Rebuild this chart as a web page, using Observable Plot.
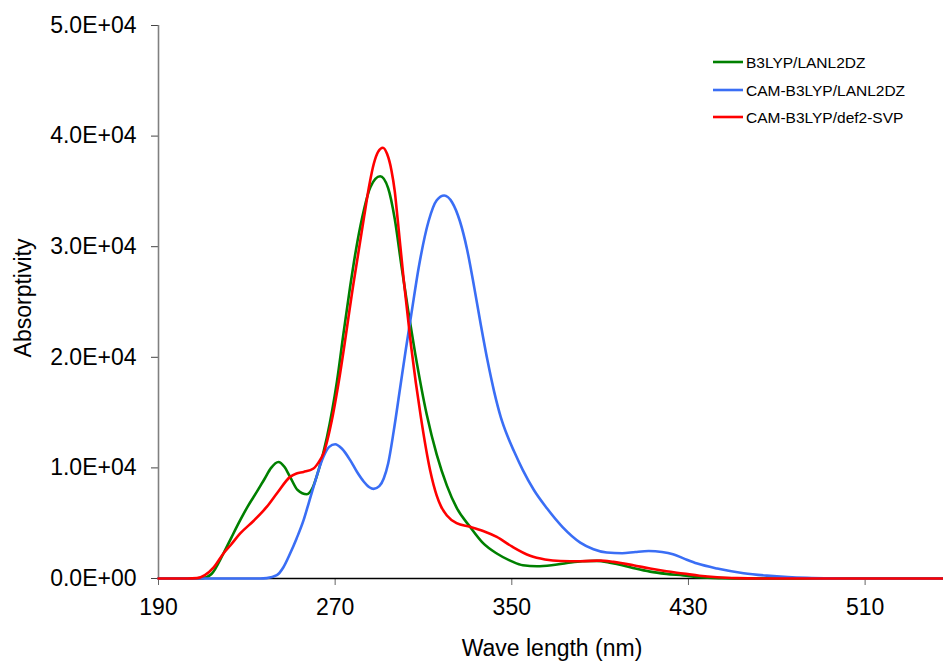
<!DOCTYPE html>
<html><head><meta charset="utf-8">
<script src="https://cdn.jsdelivr.net/npm/d3@7"></script>
<script src="https://cdn.jsdelivr.net/npm/@observablehq/plot@0.6"></script>
<style>
body{margin:0;background:#fff}
#chart{position:relative;width:943px;height:663px}
</style>
</head><body><div id="chart"></div>
<script>
const seriesNames = ["B3LYP/LANL2DZ", "CAM-B3LYP/LANL2DZ", "CAM-B3LYP/def2-SVP"];
const seriesColors = ["#008000", "#3A6EF5", "#FF0000"];
const xTicks = [190, 270, 350, 430, 510];
const yTicks = [0, 10000, 20000, 30000, 40000, 50000];
const xDomain = [190, 545.5];
const yDomain = [0, 50000];

const b3lypNm  = [190,205,210,214,219.4,223,227,230.5,234.5,238,241,244.3,247,249.6,253,257.2,260,262.5,266.3,270.8,273.8,276.8,279.5,282.1,286,290.4,294,297,300,303,306.2,311.5,316,320.6,325,331.1,337,343.2,350,355,361.4,368,375,382,388.5,395,400,406,412.6,420,427.7,435,445,455,545.5];
const b3lypAbs = [0,0,30,400,2260,3700,5270,6550,7830,9000,10000,10540,10100,9190,8000,7620,8300,9790,12800,17800,22200,26400,29800,32500,35400,36370,35300,32500,28300,24300,20400,14800,11200,8400,6400,4670,3200,2260,1550,1200,1110,1200,1400,1560,1590,1400,1200,900,620,420,280,120,30,0,0];

const camLanlNm  = [190,236,239,243.6,246.5,249.6,252.5,255.7,258,260.2,262.5,264.7,267.3,270,273,276.8,280,283,285.5,287.4,290,292,294,296.5,299.4,302,304.5,308,312.3,316,319.4,323,326.5,329.7,333,336,339,342,345,348,351,355,360,365.9,373,381,387,393,400,406,412,418,423,428,434,443,455,465.5,475,483.6,495,505,545.5];
const camLanlAbs = [0,0,30,300,1000,2260,3600,5270,6800,8280,9800,11000,11900,12140,11750,10700,9600,8750,8250,8100,8350,9050,10400,13300,17200,20700,23900,28300,32300,34200,34630,34000,32300,29800,26300,22900,19700,16900,14600,12900,11500,9800,8000,6350,4650,3250,2650,2350,2280,2400,2480,2400,2200,1800,1350,900,480,260,130,60,15,0,0];

const camDef2Nm  = [190,203,207.4,211,215,219.4,223,227,233,239,244,249.6,252.5,255.7,260.2,262.5,264.7,268.5,271.5,278.3,283.1,285.5,287.5,289.5,291.6,293.5,295.5,297,298.2,301,304.4,308.8,313,316,318,320.6,325,331.1,337,343.2,350,358.3,365,372,381,390,396,405,412.6,420,427.7,435,443,452,462,545.5];
const camDef2Abs = [0,0,30,300,1000,2260,3100,4070,5200,6470,7800,9190,9500,9640,9950,10500,11300,14310,17630,26670,32700,35600,37500,38600,38950,38400,36900,35000,32700,27100,21000,14610,9790,7500,6500,5700,5000,4670,4300,3760,2900,2050,1720,1580,1560,1620,1500,1200,900,650,450,250,110,30,0,0];

const seriesX = [b3lypNm, camLanlNm, camDef2Nm];
const seriesY = [b3lypAbs, camLanlAbs, camDef2Abs];
const rows = [];
seriesNames.forEach((name, i) => {
  seriesX[i].forEach((x, j) => rows.push({series: name, nm: x, abs: seriesY[i][j]}));
});

const sci = d => {
  if (d === 0) return "0.0E+00";
  const e = Math.floor(Math.log10(Math.abs(d)));
  const m = d / Math.pow(10, e);
  return m.toFixed(1) + "E" + (e < 0 ? "-" : "+") + String(Math.abs(e)).padStart(2, "0");
};

const FONT = "'Liberation Sans', Arial, sans-serif";

const chart = Plot.plot({
  width: 943,
  height: 663,
  marginLeft: 158,
  marginTop: 25,
  marginBottom: 85,
  marginRight: 0,
  style: {fontSize: "23px", fontFamily: FONT, background: "#fff", color: "#000"},
  x: {domain: xDomain, label: null},
  y: {domain: yDomain, label: null},
  color: {domain: seriesNames, range: seriesColors},
  marks: [
    Plot.axisX({ticks: xTicks, tickSize: 7, tickPadding: 13, stroke: "#666", fill: "#000", label: null}),
    Plot.axisY({ticks: yTicks, tickFormat: sci, tickSize: 7, tickPadding: 15, stroke: "#444", fill: "#000", label: null}),
    Plot.ruleX([xDomain[0]], {stroke: "#808080", strokeWidth: 1.6}),
    Plot.ruleY([yDomain[0]], {stroke: "#000", strokeWidth: 1.3}),
    Plot.line(rows, {x: "nm", y: "abs", z: "series", stroke: "series", strokeWidth: 2.6, curve: "monotone-x"})
  ]
});

document.getElementById("chart").appendChild(chart);

// Axis titles and legend
const svg = d3.select(chart);
svg.append("text")
  .attr("x", 552).attr("y", 656)
  .attr("text-anchor", "middle")
  .style("font-family", FONT).style("font-size", "23px").attr("fill", "#000")
  .text("Wave length (nm)");
svg.append("text")
  .attr("transform", "translate(31,298) rotate(-90)")
  .attr("text-anchor", "middle")
  .style("font-family", FONT).style("font-size", "23px").attr("fill", "#000")
  .text("Absorptivity");

const legendY = [62, 90, 117];
const lg = svg.append("g");
seriesNames.forEach((name, i) => {
  lg.append("line")
    .attr("x1", 713).attr("x2", 743)
    .attr("y1", legendY[i]).attr("y2", legendY[i])
    .attr("stroke", seriesColors[i]).attr("stroke-width", 2.6);
  lg.append("text")
    .attr("x", 746).attr("y", legendY[i])
    .attr("dy", "0.36em")
    .attr("text-anchor", "start")
    .style("text-anchor", "start")
    .style("font-family", FONT).style("font-size", "15.5px").attr("fill", "#000")
    .text(name);
});
</script>
</body></html>
